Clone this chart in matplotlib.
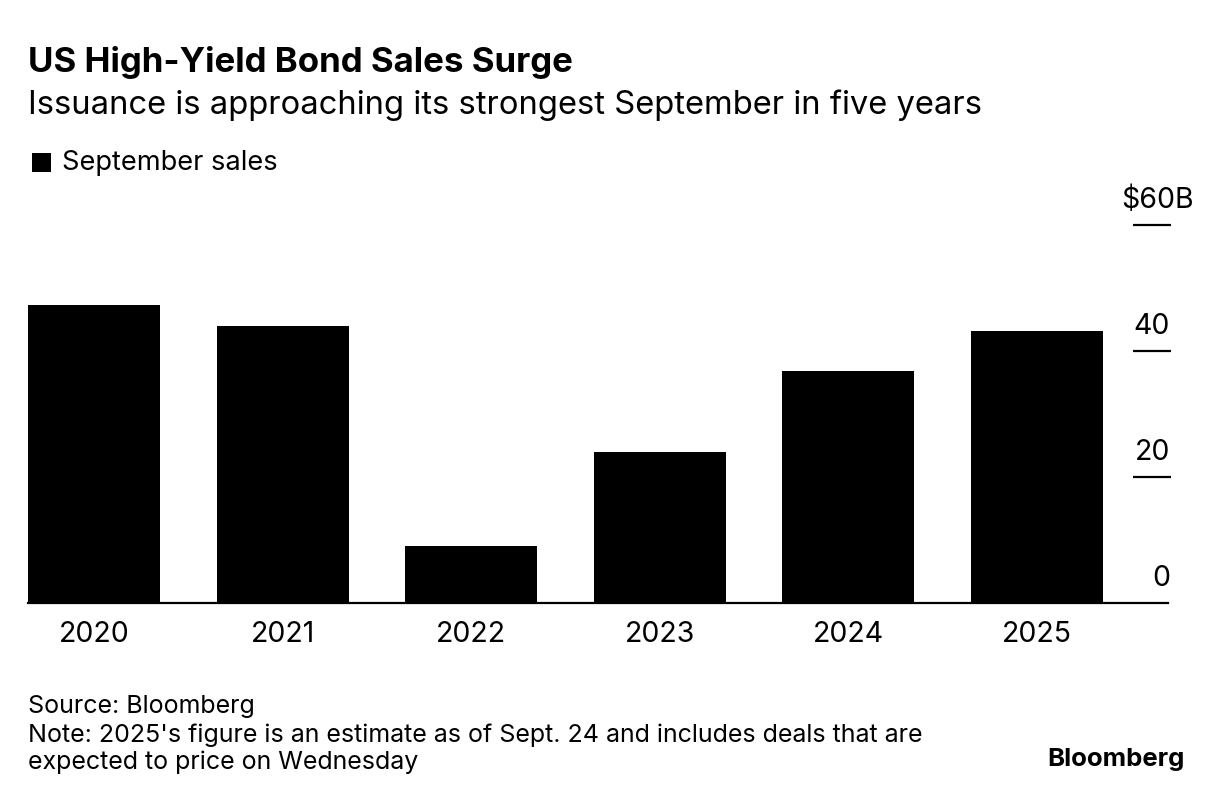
import matplotlib
matplotlib.use("Agg")
import matplotlib.pyplot as plt
from matplotlib.patches import Rectangle
import matplotlib.transforms as mtransforms

plt.rcParams['font.family'] = ['Inter', 'DejaVu Sans']

years = ["2020", "2021", "2022", "2023", "2024", "2025"]
sales = [47.3, 43.9, 9.0, 24.0, 36.9, 43.2]
yticks = [0, 20, 40, 60]
ytick_labels = ["0", "20", "40", "$60B"]

W, H = 1224, 802
fig = plt.figure(figsize=(W / 100, H / 100), dpi=100)

def fx(px):
    return px / W

def fy(py):
    return 1 - py / H

ax_left, ax_right, ax_bottom, ax_top = 28, 1168, 603, 225
ax = fig.add_axes([fx(ax_left), fy(ax_bottom), fx(ax_right - ax_left), (ax_bottom - ax_top) / H])

x = list(range(len(years)))
ax.bar(x, sales, width=0.7, color="black", zorder=2)
ax.set_xlim(-0.35, 5.695)
ax.set_ylim(0, 60)

for s in ["top", "left", "right"]:
    ax.spines[s].set_visible(False)
ax.spines["bottom"].set_linewidth(1.6)
ax.spines["bottom"].set_color("black")
ax.spines["bottom"].set_zorder(3)

ax.set_xticks(x)
ax.set_xticklabels(years, fontsize=20.5)
ax.tick_params(axis="x", length=0, pad=13)
ax.set_yticks([])

trans = mtransforms.blended_transform_factory(ax.transAxes, ax.transData)
tick_x0 = (1133 - ax_left) / (ax_right - ax_left)
tick_x1 = (1171 - ax_left) / (ax_right - ax_left)
lab_x = (1170 - ax_left) / (ax_right - ax_left)
for v, lab in zip(yticks, ytick_labels):
    if v != 0:
        ax.plot([tick_x0, tick_x1], [v, v], transform=trans, color="black", lw=1.6,
                clip_on=False, solid_capstyle="butt")
    xx = lab_x
    if lab.startswith("$"):
        xx = (1194 - ax_left) / (ax_right - ax_left)
    off = mtransforms.offset_copy(trans, fig=fig, x=0, y=17, units="dots")
    ax.text(xx, v, lab, transform=off, ha="right", va="baseline", fontsize=20.5, color="black")

fig.text(fx(28), fy(72.3), "US High-Yield Bond Sales Surge", fontsize=25.1, fontweight="bold",
         va="baseline", ha="left", color="black")
fig.text(fx(28), fy(114), "Issuance is approaching its strongest September in five years",
         fontsize=23.6, va="baseline", ha="left", color="black")

fig.patches.append(Rectangle((fx(32), fy(171.5)), fx(19), 18.5 / H, transform=fig.transFigure,
                             facecolor="black", edgecolor="none"))
fig.text(fx(62), fy(170), "September sales", fontsize=19.6, va="baseline", ha="left", color="black")

fig.text(fx(28), fy(713), "Source: Bloomberg", fontsize=18, va="baseline", ha="left", color="black")
fig.text(fx(28), fy(741.7), "Note: 2025's figure is an estimate as of Sept. 24 and includes deals that are",
         fontsize=18, va="baseline", ha="left", color="black")
fig.text(fx(28), fy(768.5), "expected to price on Wednesday", fontsize=18, va="baseline", ha="left",
         color="black")
fig.text(fx(1185), fy(765.7), "Bloomberg", fontsize=18.5, fontweight="bold", va="baseline", ha="right",
         color="black")

fig.savefig("out.png", dpi=100, facecolor="white")
